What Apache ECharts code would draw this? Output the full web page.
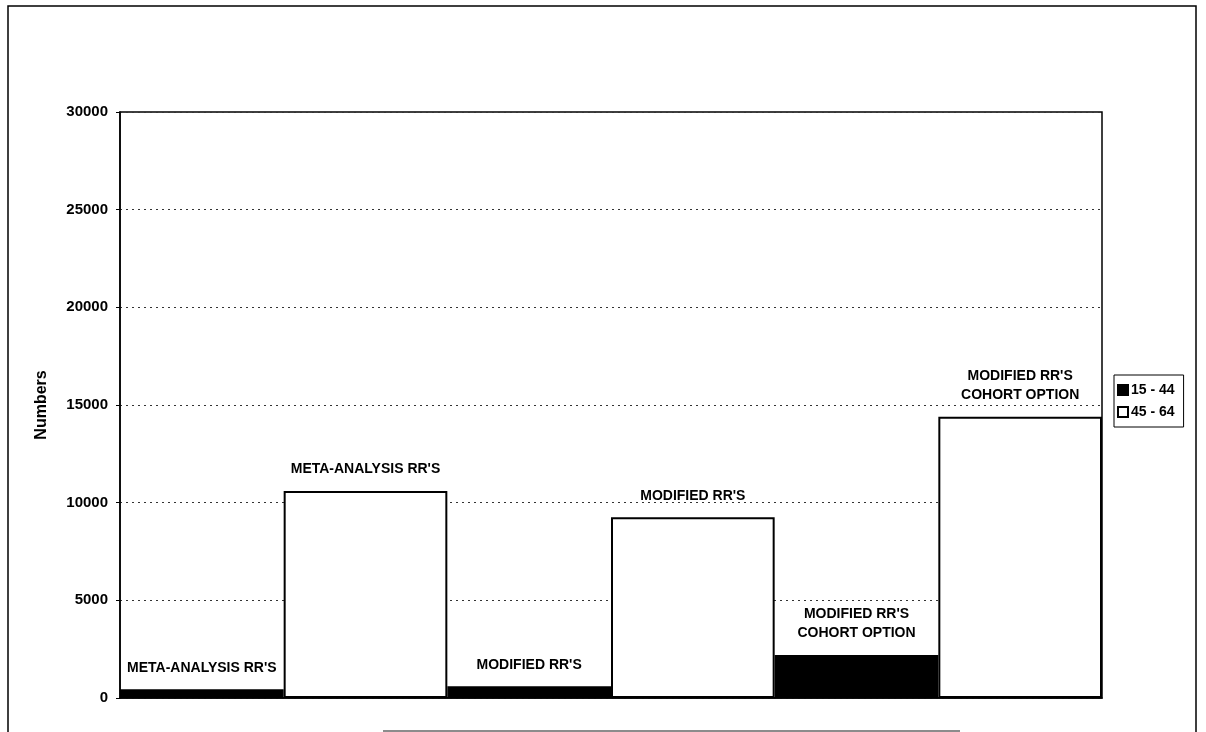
<!DOCTYPE html>
<html>
<head>
<meta charset="utf-8">
<script src="https://cdn.jsdelivr.net/npm/echarts@6/dist/echarts.min.js"></script>
<style>
  html, body { margin: 0; padding: 0; background: #fff; }
  #chart { width: 1206px; height: 732px; }
</style>
</head>
<body>
<div id="chart"></div>
<script>
const categories = ["META-ANALYSIS RR'S", "MODIFIED RR'S", "MODIFIED RR'S\nCOHORT OPTION"];
const seriesNames = ['15 - 44', '45 - 64'];
const age15to44 = [450, 600, 2200];
const age45to64 = [10600, 9250, 14400];
const yMin = 0, yMax = 30000, yStep = 5000;
const yTitle = 'Numbers';

const FONT = '"Liberation Sans", Arial, sans-serif';
const chart = echarts.init(document.getElementById('chart'), null, { renderer: 'canvas' });

const labelStyle = {
  show: true,
  position: 'top',
  distance: 12,
  fontFamily: FONT,
  fontWeight: 'bold',
  fontSize: 14,
  lineHeight: 19,
  color: '#000',
  formatter: p => categories[p.dataIndex]
};

chart.setOption({
  animation: false,
  backgroundColor: '#fff',
  graphic: [
    { type: 'rect', shape: { x: 8, y: 6, width: 1188, height: 745 },
      style: { fill: 'none', stroke: '#000', lineWidth: 1.5 }, silent: true },
    { type: 'line', shape: { x1: 383, y1: 731, x2: 960, y2: 731 },
      style: { stroke: '#666', lineWidth: 1.5 }, silent: true }
  ],
  grid: { left: 120, right: 104, top: 112, bottom: 34, show: true, borderColor: '#000', borderWidth: 1.5, backgroundColor: 'transparent' },
  legend: {
    data: seriesNames,
    orient: 'vertical',
    left: 1114,
    top: 375,
    padding: [8, 9, 8, 3],
    itemGap: 8,
    itemWidth: 10,
    itemHeight: 10,
    icon: 'rect',
    borderColor: '#000',
    borderWidth: 1,
    textStyle: { fontFamily: FONT, fontWeight: 'bold', fontSize: 14, color: '#000', padding: [0, 0, 0, -2] }
  },
  xAxis: {
    type: 'category',
    data: categories,
    axisLine: { show: true, lineStyle: { color: '#000', width: 1.5 } },
    axisTick: { show: false },
    axisLabel: { show: false },
    splitLine: { show: false }
  },
  yAxis: {
    type: 'value',
    min: yMin,
    max: yMax,
    interval: yStep,
    name: yTitle,
    nameLocation: 'middle',
    nameGap: 70,
    nameRotate: 90,
    nameTextStyle: { fontFamily: FONT, fontWeight: 'bold', fontSize: 16, color: '#000' },
    axisLine: { show: true, lineStyle: { color: '#000', width: 1.5 } },
    axisTick: { show: true, length: 4, lineStyle: { color: '#000' } },
    axisLabel: { fontFamily: FONT, fontWeight: 'bold', fontSize: 15, color: '#000', margin: 12, formatter: v => String(v) },
    splitLine: { show: true, lineStyle: { color: '#333', type: [2, 4], width: 1 } }
  },
  series: [
    {
      name: seriesNames[0],
      type: 'bar',
      data: age15to44,
      barGap: '0%',
      barCategoryGap: '0%',
      itemStyle: { color: '#000', borderColor: '#000', borderWidth: 1.5 },
      label: labelStyle
    },
    {
      name: seriesNames[1],
      type: 'bar',
      data: age45to64,
      barGap: '0%',
      barCategoryGap: '0%',
      itemStyle: { color: '#fff', borderColor: '#000', borderWidth: 2 },
      label: labelStyle
    }
  ]
});
</script>
</body>
</html>
